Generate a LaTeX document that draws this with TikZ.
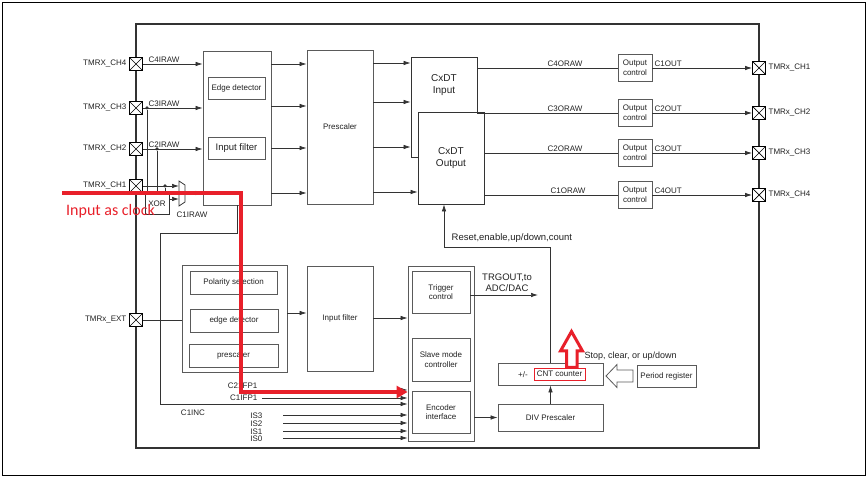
\documentclass[tikz,border=0pt]{standalone}
\usepackage{fontspec}
\setmainfont{Liberation Sans}
\newfontfamily\clockfont{Carlito}
\usetikzlibrary{arrows.meta,calc}
\definecolor{ln}{HTML}{333333}
\definecolor{bx}{HTML}{5A5A5A}
\definecolor{rd}{HTML}{E8202A}
\definecolor{tx}{HTML}{222222}
\begin{document}
\begin{tikzpicture}[x=1pt,y=-1pt,
  font=\fontsize{8}{9.6}\selectfont,
  box/.style={draw=bx, line width=0.8pt, fill=white, inner sep=0pt, align=center, text=tx},
  pinbox/.style={draw=black, line width=0.9pt, fill=white, minimum size=13pt, inner sep=0pt,
    path picture={\draw[line width=0.7pt] (path picture bounding box.north west) -- (path picture bounding box.south east)
      (path picture bounding box.south west) -- (path picture bounding box.north east);}},
  wire/.style={draw=ln, line width=0.7pt},
  arr/.style={wire, -{Latex[length=7pt,width=4.5pt]}},
  lbl/.style={inner sep=0.5pt, text=tx},
  big/.style={font=\fontsize{9.5}{11}\selectfont},
  dot/.style={circle, fill=ln, inner sep=0pt, minimum size=3.5pt},
]
\useasboundingbox (0,0) rectangle (868,478);
% frames
\draw[black, line width=1pt] (2.5,2.5) rectangle (865.5,475.5);
\draw[ln, line width=1.6pt] (136,24) rectangle (759,448);

% ---------- upper input side ----------
\node[box, minimum width=68pt, minimum height=154pt] (inb) at (237,128) {};
\node[box, minimum width=57pt, minimum height=22pt] (edet) at (236.5,88) {Edge detector};
\node[box, big, minimum width=57pt, minimum height=22pt] (ifil) at (236.5,148) {Input filter};

\node[box, minimum width=24pt, minimum height=21pt, draw=ln] (xor) at (157,203.5) {XOR};

\node[pinbox] (ch4) at (136,64) {};
\node[pinbox] (ch3) at (136,108) {};
\node[pinbox] (ch2) at (136,149) {};
\node[pinbox] (ch1) at (136,186) {};
\node[lbl, anchor=east] (lch4) at ([xshift=-2pt]ch4.west) {TMRX\_CH4};
\node[lbl, anchor=east] (lch3) at ([xshift=-2pt]ch3.west) {TMRX\_CH3};
\node[lbl, anchor=east] (lch2) at ([xshift=-2pt]ch2.west) {TMRX\_CH2};
\node[lbl, anchor=east] (lch1) at ([xshift=-2pt]ch1.west) {TMRX\_CH1};

\draw[arr] (ch4.east) -- (ch4.east -| inb.west);
\draw[arr] (ch3.east) -- (ch3.east -| inb.west);
\draw[arr] (ch2.east) -- (ch2.east -| inb.west);
\node[lbl, anchor=south west] (l4raw) at (148,63.5) {C4IRAW};
\node[lbl, anchor=south west] (l3raw) at (148,107.5) {C3IRAW};
\node[lbl, anchor=south west] (l2raw) at (148,148.5) {C2IRAW};

\node[dot] (d3) at (147,108) {};
\node[dot] (d2) at (157,149) {};
\node[dot] (d1) at (165,186) {};
\draw[wire] (d3) -- (d3 |- xor.north);
\draw[wire] (d2) -- (d2 |- xor.north);
\draw[wire] (d1) -- (d1 |- xor.north);

% mux
\draw[ln, line width=0.7pt, fill=white] (179,181) -- (185,185) -- (185,202) -- (179,206) -- cycle;
\coordinate (muxa) at (179,186);
\coordinate (muxb) at (179,199);
\coordinate (muxo) at (185,193);
\draw[arr] (ch1.east) -- (muxa);
\draw[arr] (xor.east |- muxb) -- (muxb);
\draw[arr] (muxo) -- (muxo -| inb.west);
\node[lbl] (l1raw) at (192,215) {C1IRAW};

% prescaler
\node[box, minimum width=66pt, minimum height=154pt] (pre) at (340,127) {Prescaler};
\foreach \y in {64,106,148,193} \draw[arr] (inb.east |- 0,\y) -- (pre.west |- 0,\y);

% CxDT
\node[box, minimum width=66pt, minimum height=100pt, draw=ln] (cxin) at (444,107) {};
\node[lbl, font=\fontsize{10}{12}\selectfont, align=center] (cxint) at (444,85) {CxDT\\Input};
\node[box, minimum width=66pt, minimum height=92pt, draw=ln, font=\fontsize{10}{12}\selectfont] (cxout) at (451,158) {CxDT\\Output};
\foreach \y in {63,102,147} \draw[arr] (pre.east |- 0,\y) -- (cxin.west |- 0,\y);
\draw[arr] (pre.east |- 0,192) -- (cxout.west |- 0,192);

% output controls
\node[box, minimum width=34pt, minimum height=27pt] (oc1) at (635,68) {Output\\control};
\node[box, minimum width=34pt, minimum height=27pt] (oc2) at (635,113) {Output\\control};
\node[box, minimum width=34pt, minimum height=27pt] (oc3) at (635,153) {Output\\control};
\node[box, minimum width=34pt, minimum height=27pt] (oc4) at (635,195) {Output\\control};
\draw[wire] (cxin.east |- oc1) -- (oc1.west);
\draw[wire] (cxin.east |- oc2) -- (oc2.west);
\draw[wire] (cxout.east |- oc3) -- (oc3.west);
\draw[wire] (cxout.east |- oc4) -- (oc4.west);
\node[lbl, anchor=south] (o4raw) at (565,67) {C4ORAW};
\node[lbl, anchor=south] (o3raw) at (565,112) {C3ORAW};
\node[lbl, anchor=south] (o2raw) at (565,152) {C2ORAW};
\node[lbl, anchor=south] (o1raw) at (568,194) {C1ORAW};

\node[pinbox] (rp1) at (759,68) {};
\node[pinbox] (rp2) at (759,113) {};
\node[pinbox] (rp3) at (759,153) {};
\node[pinbox] (rp4) at (759,195) {};
\draw[arr] (oc1.east) -- (rp1.west);
\draw[arr] (oc2.east) -- (rp2.west);
\draw[arr] (oc3.east) -- (rp3.west);
\draw[arr] (oc4.east) -- (rp4.west);
\node[lbl, anchor=south west] (c1o) at (654,67) {C1OUT};
\node[lbl, anchor=south west] (c2o) at (654,112) {C2OUT};
\node[lbl, anchor=south west] (c3o) at (654,152) {C3OUT};
\node[lbl, anchor=south west] (c4o) at (654,194) {C4OUT};
\node[lbl, anchor=west] (rl1) at ([xshift=2pt]rp1.east) {TMRx\_CH1};
\node[lbl, anchor=west] (rl2) at ([xshift=2pt]rp2.east) {TMRx\_CH2};
\node[lbl, anchor=west] (rl3) at ([xshift=2pt]rp3.east) {TMRx\_CH3};
\node[lbl, anchor=west] (rl4) at ([xshift=2pt]rp4.east) {TMRx\_CH4};

% ---------- lower part ----------
\node[box, minimum width=66pt, minimum height=175pt] (ctrl) at (441,353.5) {};
\node[box, minimum width=58pt, minimum height=42pt] (trig) at (441,292) {Trigger\\control};
\node[box, minimum width=58pt, minimum height=43pt] (slave) at (441,359.5) {Slave mode\\controller};
\node[box, minimum width=58pt, minimum height=42pt] (enc) at (441,412) {Encoder\\interface};

% C1INC wire
\draw[arr] (inb.south) |- (160,233) |- (ctrl.west |- 0,404);
\node[lbl] (c1inc) at (193,413) {C1INC};

\node[box, minimum width=105pt, minimum height=107pt] (grp) at (234.5,318.5) {};
\node[box, minimum width=87pt, minimum height=23pt] (pol) at (233.5,282.5) {Polarity selection};
\node[box, minimum width=88pt, minimum height=23pt] (edg) at (234,320.5) {edge detector};
\node[box, minimum width=89pt, minimum height=23pt] (psc) at (233.5,355.5) {prescaler};

\node[pinbox] (ext) at (136,320) {};
\node[lbl, anchor=east] (lext) at ([xshift=-2pt]ext.west) {TMRx\_EXT};
\draw[wire] (ext.east) -- (ext.east -| grp.west);

\node[box, minimum width=66pt, minimum height=105pt] (filt) at (340,318.5) {Input filter};
\draw[arr] (grp.east |- 0,313) -- (filt.west |- 0,313);
\draw[arr] (filt.east |- 0,318) -- (ctrl.west |- 0,318);

\coordinate (trgend) at (538,295);
\draw[arr] (trig.east |- trgend) -- (trgend);
\node[lbl, big, align=center] (trgl) at (507,282.5) {TRGOUT,to\\ADC/DAC};

% encoder inputs
\coordinate (c21) at (262,390);
\coordinate (c1f) at (262,398);
\draw[arr] (c21) -- (ctrl.west |- c21);
\draw[arr] (c1f) -- (ctrl.west |- c1f);
\node[lbl, anchor=east] (lc21) at (258,386) {C21FP1};
\node[lbl, anchor=east] (lc1f) at (258,398) {C1IFP1};
\foreach \n/\y in {3/415,2/423,1/431,0/438} {
  \coordinate (is\n) at (283,\y);
  \draw[arr] (is\n) -- (ctrl.west |- is\n);
  \node[lbl, anchor=east] (lis\n) at (263,\y+1) {IS\n};
}

% counter section
\node[box, minimum width=105pt, minimum height=22pt] (cnt) at (550.5,374) {};
\node[lbl] (pm) at (523,375) {+/-};
\node[draw=rd, line width=0.6pt, fill=white, inner sep=0pt, minimum width=51pt, minimum height=12pt, text=tx] (cntc) at (559.5,374) {CNT counter};
\node[box, minimum width=105pt, minimum height=27pt] (div) at (550.5,417.5) {DIV Prescaler};
\draw[arr] (ctrl.east |- div.west) -- (div.west);
\draw[arr] (div.north) -- (cnt.south);
\node[box, minimum width=59pt, minimum height=22pt] (per) at (666.5,376) {Period register};
\draw[bx, line width=0.8pt, fill=white] (633,370) -- (617,370) -- (617,364.5) -- (606,376) -- (617,387.5) -- (617,382) -- (633,382) -- cycle;
\node[lbl, anchor=west, font=\fontsize{9}{11}\selectfont] (stop) at (584,356) {Stop, clear, or up/down};

% reset line
\coordinate (rc) at (444,247);
\draw[arr] (cnt.north) |- (rc) -- (rc |- cxout.south);
\node[lbl, big, anchor=west] (rst) at (451,238) {Reset,enable,up/down,count};

% red annotations
\draw[rd, line width=3pt, fill=white, line join=miter] (566.5,367.5) -- (566.5,351) -- (560.5,351) -- (571.5,331.5) -- (582.5,351) -- (577,351) -- (577,367.5) -- cycle;
\draw[rd, line width=4pt, -{Triangle[length=11pt,width=12pt]}] (62,193) -| (241,392) -- (ctrl.west |- 0,392);
\node[anchor=west, text=rd, inner sep=0pt, font=\clockfont\fontsize{16}{18}\selectfont] (clk) at (66,211) {Input as clock};
\end{tikzpicture}
\end{document}
